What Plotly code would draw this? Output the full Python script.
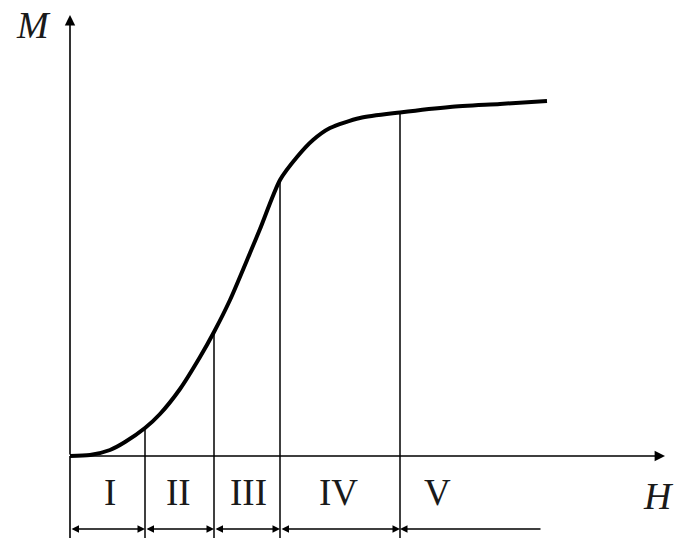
import plotly.graph_objects as go

# Magnetization curve M(H), arbitrary units
H = [0, 2, 4, 5.5, 7.5, 9, 11, 13, 14.4, 16, 18, 19, 21, 22.7, 24.3, 26, 29, 33.0, 38, 43, 47.7]
M = [0, 0.1, 0.6, 1.4, 2.8, 4.2, 6.7, 9.9, 12.4, 15.6, 20.3, 22.7, 27.6, 29.9, 31.6, 32.8, 33.8, 34.35, 34.9, 35.2, 35.5]

# Region boundaries along H and region labels
boundaries = [7.5, 14.4, 21.0, 33.0]
region_labels = ["I", "II", "III", "IV", "V"]
region_centers = [4.0, 10.8, 17.8, 26.8, 36.7]
dim_end = 47.2

x_min, x_max = -7.0, 60.6
y_min, y_max = -8.4, 45.6
axis_x_tip, axis_y_tip = 59.5, 44.1
line_bottom = -8.2
dim_y = -7.3
label_y = -3.6

fig = go.Figure()
fig.add_trace(go.Scatter(x=H, y=M, mode="lines", line=dict(color="black", width=4, shape="spline", smoothing=0.7),
                         hoverinfo="skip", showlegend=False))

shapes = []
# vertical axis extension below the H axis
shapes.append(dict(type="line", xref="x", yref="y", x0=0, x1=0, y0=line_bottom, y1=0,
                   line=dict(color="black", width=1.6)))
# boundary lines from the curve down past the dimension line
for b in boundaries:
    mb = M[H.index(b)]
    shapes.append(dict(type="line", xref="x", yref="y", x0=b, x1=b, y0=line_bottom, y1=mb,
                       line=dict(color="black", width=1.5)))

annotations = []
# axes with arrowheads
annotations.append(dict(x=axis_x_tip, y=0, ax=0, ay=0, xref="x", yref="y", axref="x", ayref="y",
                        showarrow=True, arrowhead=2, arrowsize=1.3, arrowwidth=1.6, arrowcolor="black",
                        standoff=0, startstandoff=0, text=""))
annotations.append(dict(x=0, y=axis_y_tip, ax=0, ay=0, xref="x", yref="y", axref="x", ayref="y",
                        showarrow=True, arrowhead=2, arrowsize=1.3, arrowwidth=1.6, arrowcolor="black",
                        standoff=0, startstandoff=0, text=""))

# dimension arrows under each region
edges = [0] + boundaries
for i in range(len(boundaries)):
    annotations.append(dict(x=edges[i + 1], y=dim_y, ax=edges[i], ay=dim_y, xref="x", yref="y",
                            axref="x", ayref="y", showarrow=True, arrowhead=2, startarrowhead=2,
                            arrowside="end+start", arrowsize=1.0, startarrowsize=1.0, arrowwidth=1.5,
                            arrowcolor="black", standoff=0, startstandoff=0, text=""))
annotations.append(dict(x=boundaries[-1], y=dim_y, ax=dim_end, ay=dim_y, xref="x", yref="y",
                        axref="x", ayref="y", showarrow=True, arrowhead=2, arrowsize=1.0, arrowwidth=1.5,
                        arrowcolor="black", standoff=0, text=""))

serif = "Liberation Serif, Times New Roman, serif"
for lab, cx in zip(region_labels, region_centers):
    annotations.append(dict(x=cx, y=label_y, xref="x", yref="y", text=lab, showarrow=False,
                            font=dict(family=serif, size=37, color="#1a1a1a")))

annotations.append(dict(x=-3.7, y=43.1, xref="x", yref="y", text="<i>M</i>", showarrow=False,
                        font=dict(family=serif, size=38, color="#1a1a1a")))
annotations.append(dict(x=58.8, y=-4.0, xref="x", yref="y", text="<i>H</i>", showarrow=False,
                        font=dict(family=serif, size=38, color="#1a1a1a")))

fig.update_layout(
    width=676, height=540, autosize=False,
    margin=dict(l=0, r=0, t=0, b=0),
    paper_bgcolor="white", plot_bgcolor="white",
    xaxis=dict(range=[x_min, x_max], visible=False, fixedrange=True),
    yaxis=dict(range=[y_min, y_max], visible=False, fixedrange=True),
    shapes=shapes, annotations=annotations, showlegend=False,
)

fig.write_html("out.html")
